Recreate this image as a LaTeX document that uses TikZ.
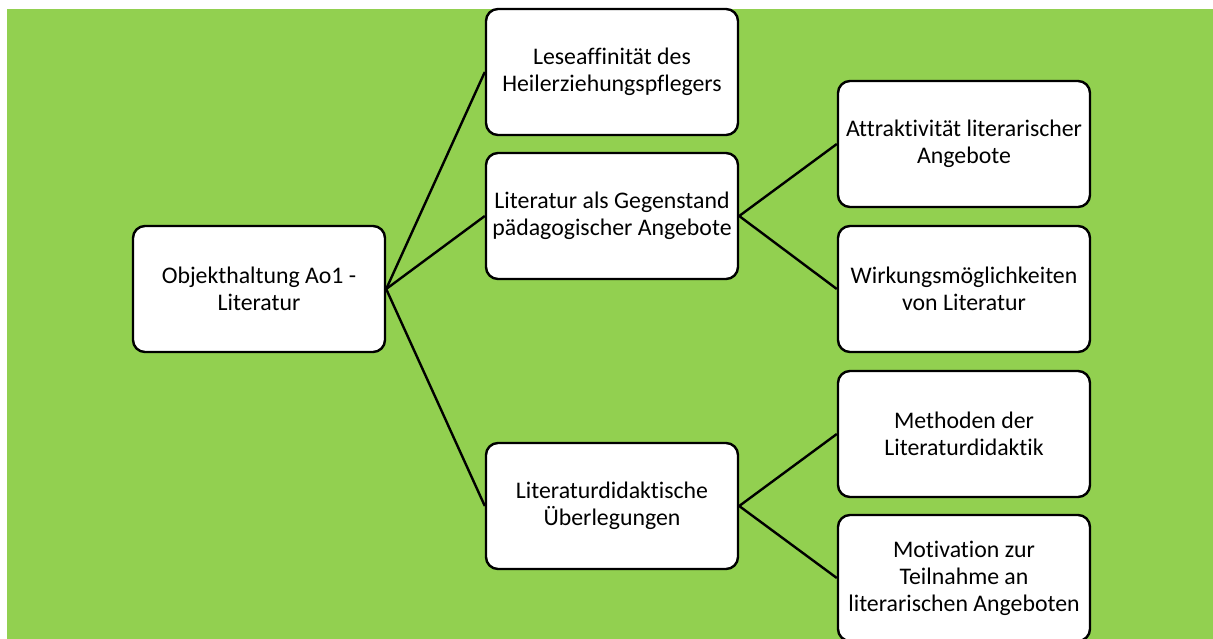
\documentclass[tikz,border=0pt]{standalone}
\usepackage{fontspec}
\setmainfont[Ligatures={NoCommon}]{Carlito}
\definecolor{leafgreen}{HTML}{92D050}
\begin{document}
\begin{tikzpicture}[x=1pt,y=-1pt,
  box/.style={draw=black, line width=2.4pt, fill=white, rounded corners=12pt,
    minimum width=252pt, minimum height=126pt, inner sep=0pt, align=center,
    font=\fontsize{23.8}{27}\selectfont},
  link/.style={draw=black, line width=2.4pt}]
  \useasboundingbox (0,0) rectangle (1213,639);
  \clip (0,0) rectangle (1213,639);
  \fill[leafgreen] (7,9) rectangle (1213,639);

  % root and first level
  \node[box] (root) at (259,289) {Objekthaltung Ao1 -\\Literatur};
  \node[box] (lese) at (612,72) {Leseaffinität des\\Heilerziehungspflegers};
  \node[box] (gegen) at (612,216) {Literatur als Gegenstand\\pädagogischer Angebote};
  \node[box] (didak) at (612,506) {Literaturdidaktische\\Überlegungen};

  % second level
  \node[box] (attr) at (964,144) {Attraktivität literarischer\\Angebote};
  \node[box] (wirk) at (964,289) {Wirkungsmöglichkeiten\\von Literatur};
  \node[box] (meth) at (964,434) {Methoden der\\Literaturdidaktik};
  \node[box] (moti) at (964,578) {Motivation zur\\Teilnahme an\\literarischen Angeboten};

  % connectors
  \draw[link] (root.east) -- (lese.west);
  \draw[link] (root.east) -- (gegen.west);
  \draw[link] (root.east) -- (didak.west);
  \draw[link] (gegen.east) -- (attr.west);
  \draw[link] (gegen.east) -- (wirk.west);
  \draw[link] (didak.east) -- (meth.west);
  \draw[link] (didak.east) -- (moti.west);
\end{tikzpicture}
\end{document}
